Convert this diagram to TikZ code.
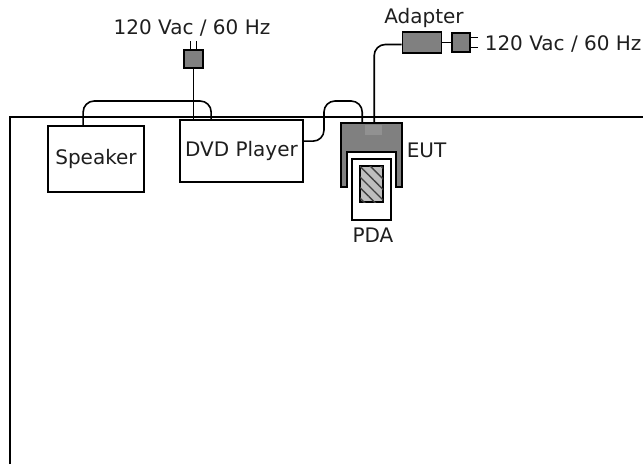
\documentclass[tikz,border=0pt]{standalone}
\usepackage{fontspec}
\setmainfont{DejaVu Sans}
\usetikzlibrary{patterns.meta,calc}
\definecolor{eutgray}{RGB}{128,128,128}
\definecolor{patchgray}{RGB}{145,145,145}
\definecolor{screengray}{RGB}{190,190,190}
\definecolor{txt}{RGB}{30,30,30}
\begin{document}
\begin{tikzpicture}[x=1pt,y=-1pt,line width=1.6pt,
  font=\fontsize{20}{23}\selectfont,
  box/.style={draw,line width=1.7pt,inner sep=0pt,fill=white,text=txt},
  graybox/.style={draw,line width=1.6pt,inner sep=0pt,fill=eutgray},
  cable/.style={line width=1.6pt,rounded corners=11pt},
  prong/.style={line width=1.3pt},
  lbl/.style={inner sep=0pt,text=txt}]
\useasboundingbox (0,0) rectangle (643,464);
% table outline
\coordinate (tl) at (9.5,117);
\draw[line width=2pt] (9.5,464) -- (tl) -- (643,117);
% devices
\node[box,minimum width=96pt,minimum height=66pt] (spk) at (96,159) {Speaker};
\node[box,minimum width=123pt,minimum height=62pt] (dvd) at (241.5,151) {DVD Player};
\node[graybox,minimum width=19pt,minimum height=18pt] (p1) at (193.5,59) {};
\node[graybox,minimum width=39pt,minimum height=21pt] (adp) at (422,42.5) {};
\node[graybox,minimum width=18pt,minimum height=19pt] (p2) at (461,42.5) {};
% EUT cradle
\node[inner sep=0pt,minimum width=61pt,minimum height=64pt] (eut) at (371.5,155) {};
\draw[fill=eutgray,line width=1.7pt] (341,123) -- (402,123) -- (402,187) -- (396,187) -- (396,152)
  -- (347,152) -- (347,187) -- (341,187) -- cycle;
\fill[patchgray] (365,125) rectangle (382,135);
% PDA
\node[box,minimum width=39pt,minimum height=61pt] (pda) at (371.5,189.5) {};
\node[draw,line width=1.2pt,inner sep=0pt,minimum width=23pt,minimum height=36pt,
  fill=screengray,postaction={pattern={Lines[angle=-45,distance=7.5pt,line width=1.4pt]},pattern color=black!75}]
  (scr) at (371.5,184) {};
% plug prongs
\draw[prong] ($(p1.north)+(-3,0)$) -- ++(0,-8);
\draw[prong] ($(p1.north)+(3,0)$) -- ++(0,-8);
\draw[prong] ($(p2.east)+(0,-5)$) -- ++(7,0);
\draw[prong] ($(p2.east)+(0,5)$) -- ++(7,0);
% cables
\draw[cable] ($(spk.north west)+(36,0)$) |- (150,101) -| ($(dvd.north west)+(32,0)$);
\draw[cable] (p1.south) -- (p1.south |- dvd.north);
\draw[cable] ($(dvd.north east)+(0,22)$) -| (324,101) -| ($(eut.north west)+(22,0)$);
\draw[cable] ($(eut.north west)+(34,0)$) |- ($(adp.west)+(0,2)$);
\draw[line width=1.6pt] (adp.east) -- (p2.west);
% labels
\node[lbl,anchor=base] (t1) at (192,34) {120 Vac / 60 Hz};
\node[lbl,anchor=base west] (t2) at (484,50) {120 Vac / 60 Hz};
\node[lbl,anchor=base] (tad) at (424,23) {Adapter};
\node[lbl,anchor=base west] (teut) at (406,157) {EUT};
\node[lbl,anchor=base] (tpda) at (373,242) {PDA};
\end{tikzpicture}
\end{document}
